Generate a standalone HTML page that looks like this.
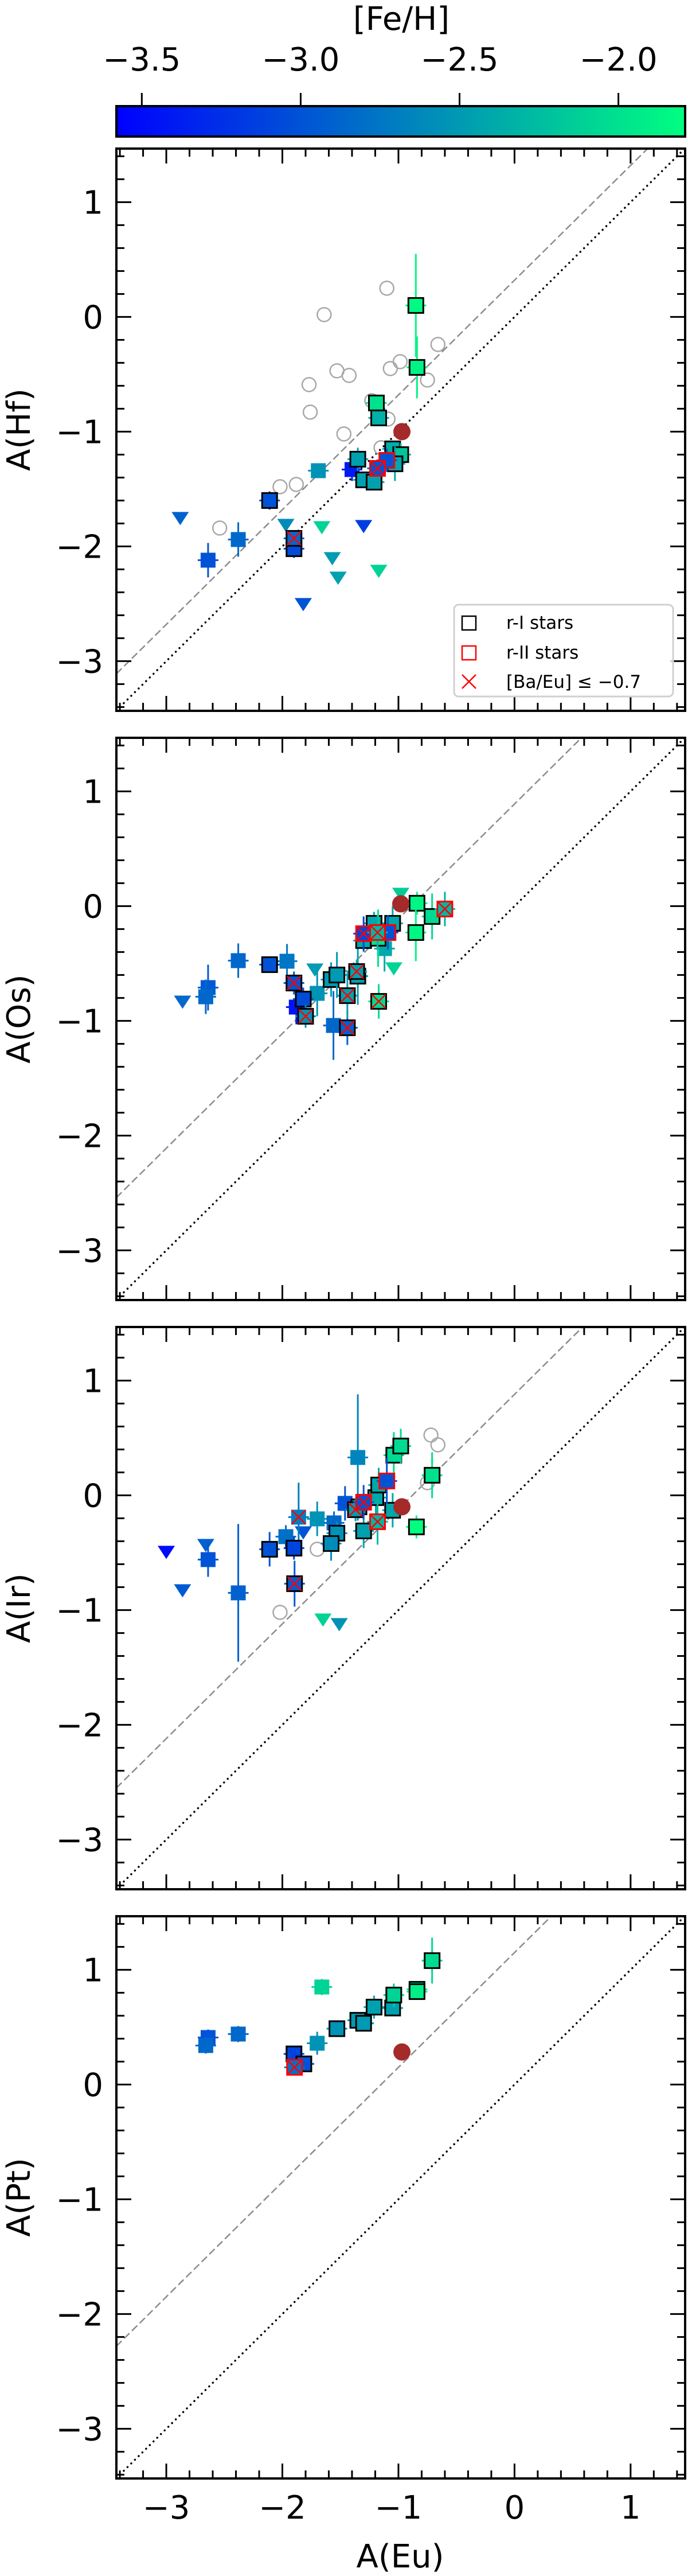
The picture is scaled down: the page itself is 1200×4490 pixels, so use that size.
<!DOCTYPE html>
<html><head><meta charset="utf-8">
<style>
html,body{margin:0;padding:0;background:#fff;}
svg{display:block;font-family:"DejaVu Sans","Liberation Sans",sans-serif;}
</style></head>
<body>
<svg id="fig" xmlns="http://www.w3.org/2000/svg" width="1200" height="4490" viewBox="0 0 1200 4490">
<defs>
<linearGradient id="winter" x1="0" y1="0" x2="1" y2="0">
<stop offset="0" stop-color="#0000ff"/><stop offset="1" stop-color="#00ff80"/>
</linearGradient>
</defs>
<rect x="0" y="0" width="1200" height="4490" fill="#fff"/>
<g id="cbar"></g>
<g id="panels"></g>
</svg>
<script>
// ---- data (A(Eu) x, A(X) y, [Fe/H], kind, y-error) ----
// kind: n = no edge, b = r-I (black edge), r = r-II (red edge), bx/rx/nx = with [Ba/Eu] cross, t = upper limit, c = literature (gray circle), s = Sun
const hfX=[-1.10,-1.64,-0.66,-0.985,-1.07,-1.53,-1.425,-0.75,-1.77,-1.76,-1.23,-1.09,-1.47,-1.15,-2.02,-1.88,-2.54,
 -2.88,-1.97,-1.66,-1.30,-1.57,-1.52,-1.17,-1.82,
 -0.85,-0.84,-1.19,-1.17,-1.05,-0.98,-1.35,-1.03,-1.10,-1.18,-1.40,-1.69,-1.30,-1.21,-2.11,-2.38,-2.64,-1.90,-1.90,-0.97];
const hfY=[0.25,0.02,-0.24,-0.39,-0.45,-0.47,-0.51,-0.55,-0.59,-0.83,-0.73,-0.89,-1.02,-1.14,-1.48,-1.46,-1.84,
 -1.75,-1.81,-1.83,-1.82,-2.10,-2.27,-2.21,-2.50,
 0.10,-0.44,-0.75,-0.88,-1.15,-1.20,-1.24,-1.28,-1.25,-1.32,-1.33,-1.34,-1.42,-1.44,-1.60,-1.94,-2.12,-2.02,-1.93,-1.00];
const hfFeh=[null,null,null,null,null,null,null,null,null,null,null,null,null,null,null,null,null,
 -2.9,-2.6,-2.1,-3.15,-2.5,-2.45,-2.1,-3.0,
 -1.82,-1.88,-2.0,-2.35,-2.35,-2.2,-2.45,-2.4,-3.0,-3.0,-3.4,-2.55,-2.45,-2.45,-3.0,-2.85,-3.0,-3.05,-2.85,null];
const hfKind=['c','c','c','c','c','c','c','c','c','c','c','c','c','c','c','c','c',
 't','t','t','t','t','t','t','t',
 'b','b','b','b','b','b','b','b','r','rx','n','n','b','b','b','n','n','b','bx','s'];
const hfErr=[0,0,0,0,0,0,0,0,0,0,0,0,0,0,0,0,0,
 0,0,0,0,0,0,0,0,
 0.45,0.27,0.05,0.05,0.05,0.1,0.1,0.15,0.1,0.05,0.1,0.05,0.05,0.05,0.08,0.15,0.15,0.08,0.05,0.05];

const osX=[-2.86,-2.64,-2.66,-2.38,-2.11,-1.96,-1.90,-1.82,-1.88,-1.80,-1.72,-1.70,-1.58,-1.53,-1.56,-1.44,-1.44,-1.36,-1.35,-1.30,-1.30,-1.21,-1.18,-1.175,-1.09,-1.05,-1.12,-1.04,-1.17,-0.98,-0.84,-0.85,-0.71,-0.60,-0.98];
const osY=[-0.83,-0.71,-0.79,-0.475,-0.51,-0.48,-0.67,-0.81,-0.88,-0.96,-0.55,-0.76,-0.64,-0.60,-1.04,-1.06,-0.78,-0.57,-0.61,-0.24,-0.30,-0.15,-0.23,-0.28,-0.23,-0.15,-0.37,-0.54,-0.83,0.11,0.025,-0.23,-0.09,-0.025,0.02];
const osFeh=[-2.85,-2.95,-2.85,-2.85,-3.0,-2.75,-3.0,-3.05,-3.45,-2.55,-2.5,-2.55,-2.5,-2.5,-2.85,-2.9,-2.45,-2.45,-2.45,-3.1,-2.4,-2.4,-2.3,-2.0,-3.0,-2.4,-2.4,-2.1,-2.05,-2.15,-1.85,-1.85,-2.05,-2.3,null];
const osKind=['t','n','n','n','b','n','bx','b','n','bx','t','n','b','b','n','bx','bx','bx','b','rx','b','b','rx','b','r','b','n','t','bx','t','b','b','b','rx','s'];
const osErr=[0,0.2,0.15,0.15,0.05,0.15,0.1,0.1,0.15,0.1,0,0.2,0.15,0.2,0.3,0.15,0.2,0.1,0.25,0.15,0.1,0.1,0.15,0.25,0.15,0.15,0.2,0,0.15,0,0.1,0.25,0.2,0.15,0.05];

const irX=[-1.70,-2.02,-0.72,-0.66,-0.75,
 -3.0,-2.66,-2.86,-1.82,-1.65,-1.51,
 -2.64,-2.38,-2.11,-1.97,-1.90,-1.86,-1.70,-1.555,-1.53,-1.58,-1.895,-1.35,-1.46,-1.37,-1.34,-1.30,-1.30,-1.195,-1.17,-1.10,-1.18,-1.05,-0.845,-1.04,-0.98,-0.71,-0.97];
const irY=[-0.47,-1.02,0.525,0.44,0.11,
 -0.49,-0.43,-0.825,-0.32,-1.08,-1.12,
 -0.56,-0.85,-0.47,-0.36,-0.46,-0.19,-0.205,-0.24,-0.33,-0.42,-0.77,0.33,-0.07,-0.125,-0.10,-0.06,-0.31,-0.02,0.09,0.125,-0.23,-0.13,-0.275,0.35,0.43,0.175,-0.10];
const irFeh=[null,null,null,null,null,
 -3.5,-2.9,-2.95,-3.0,-2.1,-2.55,
 -3.0,-2.9,-3.0,-2.8,-3.1,-2.7,-2.55,-2.85,-2.55,-2.6,-2.95,-2.65,-3.0,-2.5,-2.45,-3.0,-2.45,-2.4,-2.4,-3.0,-2.3,-2.4,-1.8,-2.05,-2.05,-2.0,null];
const irKind=['c','c','c','c','c',
 't','t','t','t','t','t',
 'n','n','b','n','b','nx','n','n','b','b','bx','n','n','bx','b','rx','b','b','b','r','rx','b','b','b','b','b','s'];
const irErr=[0,0,0,0,0,
 0,0,0,0,0,0,
 0.15,0.6,0.15,0.1,0.1,0.3,0.15,0.1,0.1,0.15,0.2,0.55,0.15,0.1,0.1,0.15,0.15,0.15,0.15,0.2,0.2,0.15,0.1,0.2,0.15,0.2,0.05];

const ptX=[-2.64,-2.66,-2.38,-1.90,-1.815,-1.895,-1.70,-1.66,-1.53,-1.35,-1.30,-1.21,-1.05,-1.04,-0.84,-0.84,-0.71,-0.97];
const ptY=[0.41,0.34,0.44,0.267,0.18,0.15,0.36,0.85,0.487,0.56,0.534,0.675,0.667,0.78,0.83,0.81,1.08,0.284];
const ptFeh=[-3.0,-2.85,-2.85,-3.1,-3.0,-2.8,-2.55,-2.1,-2.55,-2.5,-2.5,-2.45,-2.45,-2.1,-1.85,-1.9,-2.05,null];
const ptKind=['n','n','n','b','b','rx','n','n','b','b','b','b','b','b','b','b','b','s'];
const ptErr=[0.07,0.07,0.07,0.07,0.07,0.07,0.1,0.07,0.07,0.07,0.07,0.1,0.07,0.1,0.07,0.07,0.2,0.05];

const panelNames=['Hf','Os','Ir','Pt'];
const dashOffsets=[0.32,0.89,0.88,1.15];
const xTicks=[-3,-2,-1,0,1];
const yTicks=[-3,-2,-1,0,1];
const cbTicks=[-3.5,-3.0,-2.5,-2.0];
const cbTickLabels=['\u22123.5','\u22123.0','\u22122.5','\u22122.0'];

// ---- layout ----
const NS='http://www.w3.org/2000/svg';
const AX_L=203, AX_R=1195, PH=980, TOPS=[259,1286,2313,3340];
const XMIN=-3.43, XMAX=1.47, YMIN=-3.433, YMAX=1.467;
const FEMIN=-3.58, FEMAX=-1.79;
function sx(v){return AX_L+(v-XMIN)/(XMAX-XMIN)*(AX_R-AX_L);}
function syF(top){return v=>top+(YMAX-v)/(YMAX-YMIN)*PH;}
function cmap(f){let t=(f-FEMIN)/(FEMAX-FEMIN);t=Math.max(0,Math.min(1,t));
 const g=Math.round(255*t),b=Math.round(255*(1-0.5*t));return 'rgb(0,'+g+','+b+')';}
function mk(tag,attrs,parent){const e=document.createElementNS(NS,tag);for(const k in attrs)e.setAttribute(k,attrs[k]);parent.appendChild(e);return e;}
function minus(v){return v<0?'\u2212'+Math.abs(v):String(v);}

// ---- colorbar ----
const cb=document.getElementById('cbar');
let r=mk('rect',{x:AX_L,y:185,width:AX_R-AX_L,height:53,fill:'url(#winter)',stroke:'#000','stroke-width':4},cb);


const cbx=v=>AX_L+(v-FEMIN)/(FEMAX-FEMIN)*(AX_R-AX_L);
cbTicks.forEach((v,i)=>{
 const l=mk('line',{x1:cbx(v),x2:cbx(v),y1:185,y2:162,stroke:'#000','stroke-width':3},cb);
 
 
 const t=mk('text',{x:cbx(v),y:123,'text-anchor':'middle','font-size':56},cb);
 t.textContent=cbTickLabels[i];
 
 
});
let cbt=mk('text',{x:700,y:52,'text-anchor':'middle','font-size':56},cb);
cbt.textContent='[Fe/H]';



// ---- panels ----
const datasets=[[hfX,hfY,hfFeh,hfKind,hfErr],[osX,osY,osFeh,osKind,osErr],[irX,irY,irFeh,irKind,irErr],[ptX,ptY,ptFeh,ptKind,ptErr]];
const panelsG=document.getElementById('panels');
datasets.forEach((ds,pi)=>{
 const top=TOPS[pi], bot=top+PH, sy=syF(top);
 const g=mk('g',{},panelsG);
 
 
 const cid='clip'+pi;
 const cp=mk('clipPath',{id:cid},g);mk('rect',{x:AX_L,y:top,width:AX_R-AX_L,height:PH},cp);
 const plot=mk('g',{'clip-path':'url(#'+cid+')'},g);
 // reference lines
 let dl=mk('line',{x1:sx(XMIN),y1:sy(XMIN+dashOffsets[pi]),x2:sx(XMAX),y2:sy(XMAX+dashOffsets[pi]),stroke:'#8c8c8c','stroke-width':2.5,'stroke-dasharray':'13 6'},plot);
 
 
 let ol=mk('line',{x1:sx(XMIN),y1:sy(XMIN),x2:sx(XMAX),y2:sy(XMAX),stroke:'#000','stroke-width':3.5,'stroke-dasharray':'0.1 9','stroke-linecap':'round'},plot);
 
 
 const [X,Y,F,K,E]=ds;
 const order=[];
 ['c','t','n','nx','b','bx','r','rx','s'].forEach(k=>{K.forEach((kk,i)=>{if(kk===k)order.push(i);});});
 order.forEach(i=>{
  const k=K[i], cx=sx(X[i]), cy=sy(Y[i]);
  if(k==='c'){
   const c=mk('circle',{cx:cx,cy:cy,r:12,fill:'none',stroke:'#a8a8a8','stroke-width':2.5},plot);
   
   
   return;
  }
  if(k==='s'){
   const c=mk('circle',{cx:cx,cy:cy,r:15,fill:'#a52a2a'},plot);
   
   
   return;
  }
  const col=cmap(F[i]);
  if(k==='t'){
   const p=mk('polygon',{points:(cx-15)+','+(cy-10)+' '+(cx+15)+','+(cy-10)+' '+cx+','+(cy+13),fill:col},plot);
   
   
   return;
  }
  if(E[i]>0){
   const eb=mk('line',{x1:cx,x2:cx,y1:sy(Y[i]+E[i]),y2:sy(Y[i]-E[i]),stroke:col,'stroke-width':3},plot);
   
   
  }
  const hb=mk('line',{x1:cx-18,x2:cx+18,y1:cy,y2:cy,stroke:col,'stroke-width':3},plot);
  
  
  const edge=(k[0]==='b')?'#000':(k[0]==='r'?'#ff0000':'none');
  const s=mk('rect',{x:cx-13,y:cy-13,width:26,height:26,fill:col,stroke:edge,'stroke-width':edge==='none'?0:3},plot);
  
  
  if(k.endsWith('x')){
   const x1=mk('path',{d:'M'+(cx-12)+' '+(cy-12)+'L'+(cx+12)+' '+(cy+12)+'M'+(cx+12)+' '+(cy-12)+'L'+(cx-12)+' '+(cy+12),stroke:'#ff0000','stroke-width':2.5,fill:'none'},plot);
   
   
  }
 });
 // frame
 const fr=mk('rect',{x:AX_L,y:top,width:AX_R-AX_L,height:PH,fill:'none',stroke:'#000','stroke-width':4},g);
 
 
 // ticks
 const tg=mk('g',{stroke:'#000','stroke-width':3},g);
 
 
 for(let m=-34;m<=14;m+=2){
  const v=m/10, isMaj=(m%10===0), L=isMaj?26:14;
  const x=sx(v);
  if(v>XMIN&&v<XMAX){mk('line',{x1:x,x2:x,y1:bot,y2:bot-L},tg);mk('line',{x1:x,x2:x,y1:top,y2:top+L},tg);}
  const y=sy(v);
  if(v>YMIN&&v<YMAX){mk('line',{x1:AX_L,x2:AX_L+L,y1:y,y2:y},tg);mk('line',{x1:AX_R,x2:AX_R-L,y1:y,y2:y},tg);}
 }
 yTicks.forEach(v=>{
  const t=mk('text',{x:180,y:sy(v)+20,'text-anchor':'end','font-size':56},g);
  t.textContent=minus(v);
  
  
 });
 const yl=mk('text',{x:0,y:0,'text-anchor':'middle','font-size':56,transform:'translate(52,'+(top+PH/2)+') rotate(-90)'},g);
 yl.textContent='A('+panelNames[pi]+')';
 
 
 if(pi===3){
  xTicks.forEach(v=>{
   const t=mk('text',{x:sx(v),y:bot+70,'text-anchor':'middle','font-size':56},g);
   t.textContent=minus(v);
   
   
  });
  const xl=mk('text',{x:698,y:4475,'text-anchor':'middle','font-size':56},g);
  xl.textContent='A(Eu)';
  
  
 }
 if(pi===0){
  const lg=mk('g',{},g);
  
  
  mk('rect',{x:792,y:1054,width:382,height:160,rx:8,fill:'#fff','fill-opacity':0.8,stroke:'#d0d0d0','stroke-width':3},lg);
  const e1=mk('g',{},lg);
  
  
  mk('rect',{x:806,y:1074,width:24,height:24,fill:'none',stroke:'#000','stroke-width':2.5},e1);
  let t1=mk('text',{x:883,y:1096,'font-size':31},e1);t1.textContent='r-I stars';
  const e2=mk('g',{},lg);
  
  
  mk('rect',{x:806,y:1126,width:24,height:24,fill:'none',stroke:'#ff0000','stroke-width':2.5},e2);
  let t2=mk('text',{x:883,y:1148,'font-size':31},e2);t2.textContent='r-II stars';
  const e3=mk('g',{},lg);
  
  
  mk('path',{d:'M806 1176L830 1200M830 1176L806 1200',stroke:'#ff0000','stroke-width':2.5},e3);
  let t3=mk('text',{x:883,y:1199,'font-size':31},e3);t3.textContent='[Ba/Eu] \u2264 \u22120.7';
 }
});
</script>
</body></html>
